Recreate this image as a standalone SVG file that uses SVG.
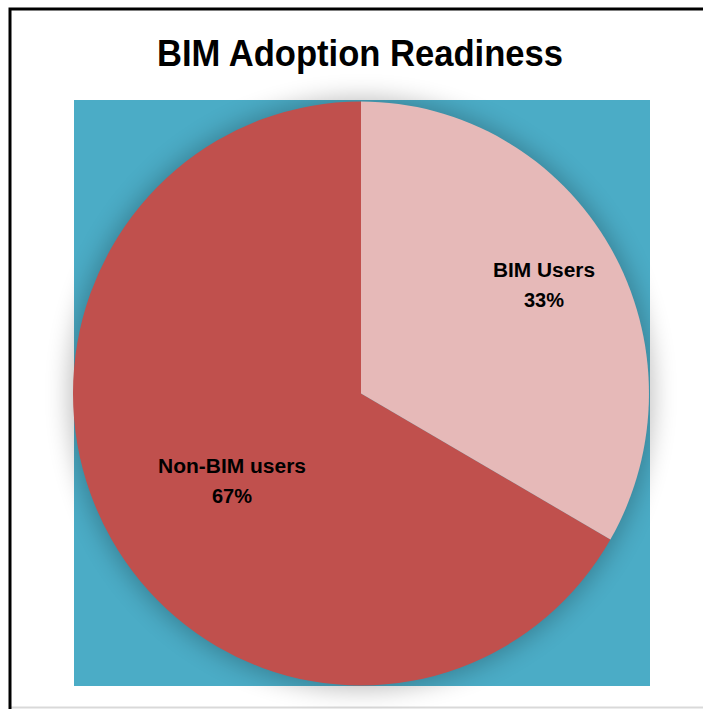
<svg xmlns="http://www.w3.org/2000/svg" width="703" height="709" viewBox="0 0 703 709">
<defs>
<style>
.title{font-family:"Liberation Sans",Arial,sans-serif;font-weight:bold;font-size:36px;fill:#000}
.lbl{font-family:"Liberation Sans",Arial,sans-serif;font-weight:bold;font-size:20px;fill:#000;text-anchor:middle}
</style>
<filter id="sh" x="-20%" y="-20%" width="140%" height="140%">
<feGaussianBlur stdDeviation="12"/>
</filter>
</defs>
<rect x="0" y="0" width="703" height="709" fill="#fff"/>
<line x1="9" y1="707.5" x2="703" y2="707.5" stroke="#d9d9d9" stroke-width="2"/>
<path d="M10 709 V9 H703" fill="none" stroke="#000" stroke-width="3"/>
<text class="title" x="360" y="66" text-anchor="middle" textLength="406" lengthAdjust="spacingAndGlyphs">BIM Adoption Readiness</text>
<rect x="74" y="100" width="576" height="586" fill="#4BACC6"/>
<ellipse cx="361" cy="394" rx="292" ry="296" fill="#000" opacity="0.25" filter="url(#sh)"/>
<g id="slice-nonbim">
<path d="M361 393.5 L610.4 539.5 A288 292 0 1 1 361 101.5 Z" fill="#C0504D"/>
</g>
<g id="slice-bim">
<path d="M361 393.5 L361 101.5 A288 292 0 0 1 610.4 539.5 Z" fill="#E6B9B8"/>
</g>
<g id="labels">
<text class="lbl" x="544" y="277" textLength="102" lengthAdjust="spacingAndGlyphs">BIM Users</text>
<text class="lbl" x="544" y="307">33%</text>
<text class="lbl" x="232" y="473" textLength="148" lengthAdjust="spacingAndGlyphs">Non-BIM users</text>
<text class="lbl" x="232" y="503">67%</text>
</g>
</svg>
